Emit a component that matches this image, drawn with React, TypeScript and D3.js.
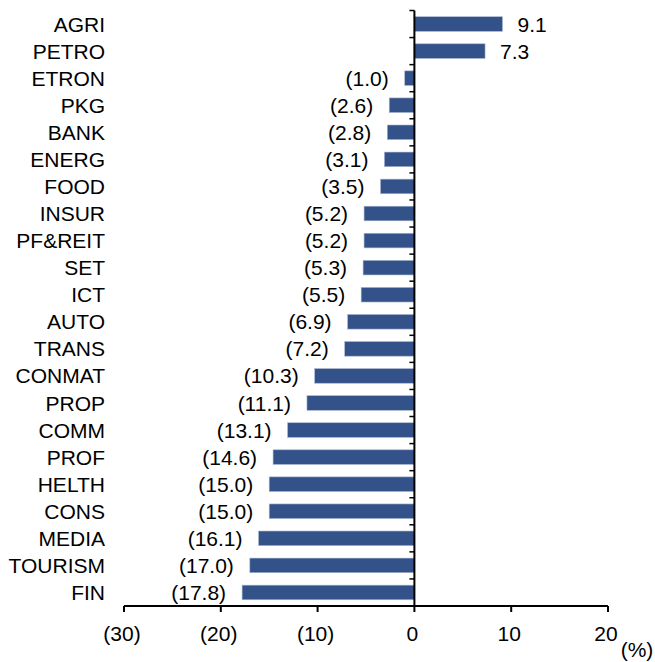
import React from "react";
import * as d3 from "d3";

const categories = ["AGRI","PETRO","ETRON","PKG","BANK","ENERG","FOOD","INSUR","PF&REIT","SET","ICT","AUTO","TRANS","CONMAT","PROP","COMM","PROF","HELTH","CONS","MEDIA","TOURISM","FIN"];
const values = [9.1,7.3,-1.0,-2.6,-2.8,-3.1,-3.5,-5.2,-5.2,-5.3,-5.5,-6.9,-7.2,-10.3,-11.1,-13.1,-14.6,-15.0,-15.0,-16.1,-17.0,-17.8];
const xTicks = [-30,-20,-10,0,10,20];
const unitLabel = "(%)";

const W = 655, H = 662;
const FONT = "'Liberation Sans', Arial, Helvetica, sans-serif";
const FS = 21;
const fmt = (v: number) => (v < 0 ? `(${Math.abs(v).toFixed(1)})` : v.toFixed(1));
const fmtTick = (v: number) => (v < 0 ? `(${Math.abs(v)})` : `${v}`);

export default function App() {
  const x = d3.scaleLinear().domain([-30, 20]).range([124, 608]);
  const y = d3.scaleBand<string>().domain(categories).range([10.5, 606]).paddingInner(0.46).paddingOuter(0.23);
  const step = y.step();
  const axisY = 606;
  const x0 = x(0);
  const boundaries = d3.range(categories.length + 1).map(i => 10.5 + i * step);
  return (
    <svg width={W} height={H} style={{ position: "absolute", left: 0, top: 0, background: "#fff" }} fontFamily={FONT}>
      {categories.map((c, i) => {
        const v = values[i];
        const yy = y(c)!;
        const bx = Math.min(x(v), x0);
        const bw = Math.abs(x(v) - x0);
        const cy = yy + y.bandwidth() / 2;
        return (
          <g key={c}>
            <rect x={bx} y={yy} width={bw} height={y.bandwidth()} fill="#34528A" stroke="#a8b6cf" strokeWidth={0.6} />
            <text x={105} y={cy} dy="0.36em" textAnchor="end" fontSize={FS} fill="#000">{c}</text>
            <text x={v < 0 ? x(v) - 16 : x(v) + 15} y={cy} dy="0.36em" textAnchor={v < 0 ? "end" : "start"} fontSize={FS} fill="#000">{fmt(v)}</text>
          </g>
        );
      })}
      <line x1={x0} x2={x0} y1={10.5} y2={axisY} stroke="#000" strokeWidth={2} />
      {boundaries.map((b, i) => (
        <line key={i} x1={x0 - 5} x2={x0} y1={b} y2={b} stroke="#000" strokeWidth={1.5} />
      ))}
      <line x1={x(-30)} x2={x(20)} y1={axisY} y2={axisY} stroke="#000" strokeWidth={2} />
      {xTicks.map(t => (
        <g key={t}>
          <line x1={x(t)} x2={x(t)} y1={axisY} y2={axisY + 6} stroke="#000" strokeWidth={2} />
          <text x={x(t) - 2} y={633} dy="0.36em" textAnchor="middle" fontSize={FS} fill="#000">{fmtTick(t)}</text>
        </g>
      ))}
      <text x={637} y={649} dy="0.36em" textAnchor="middle" fontSize={FS} fill="#000">{unitLabel}</text>
    </svg>
  );
}
